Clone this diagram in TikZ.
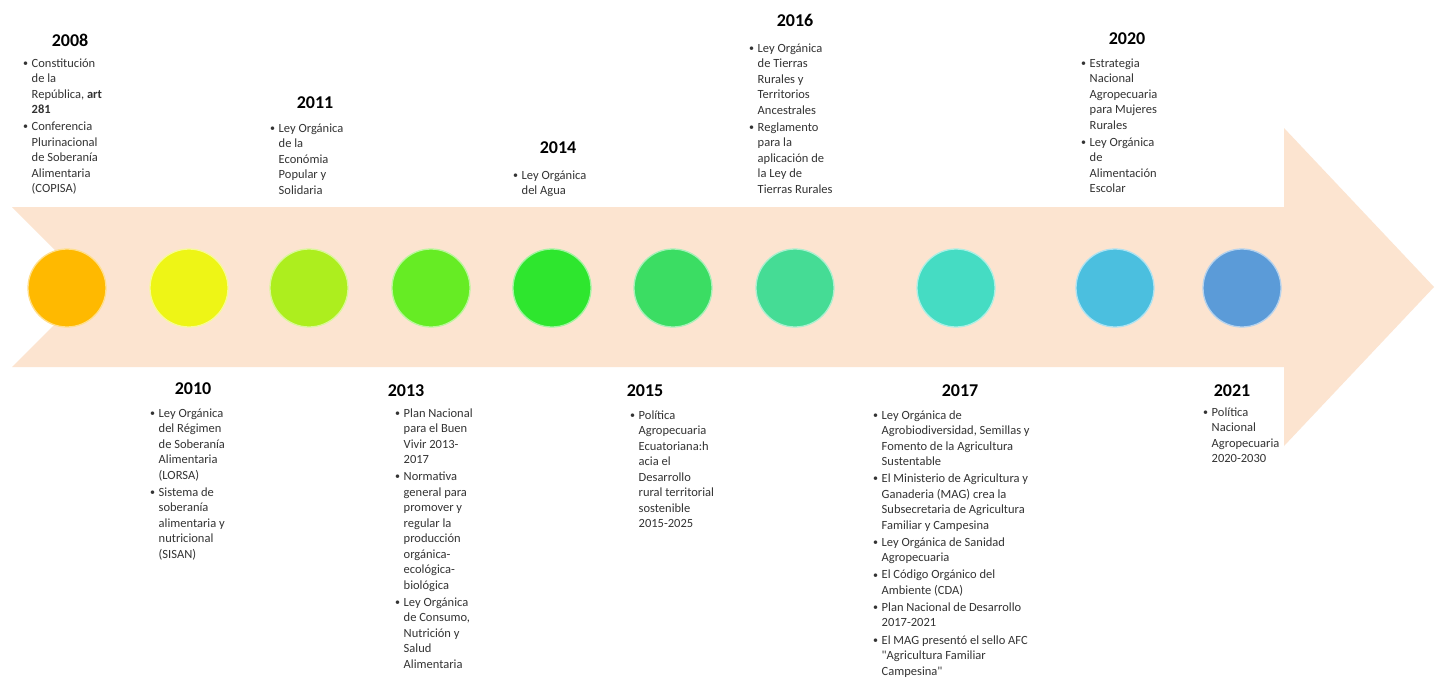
\documentclass[tikz,border=0pt]{standalone}
\usepackage{fontspec}
\setmainfont{Carlito}[Ligatures=TeXOff]
\definecolor{arrowc}{HTML}{FCE4D0}
\definecolor{txtc}{HTML}{333333}
\definecolor{k08}{HTML}{FFB900}
\definecolor{k10}{HTML}{EEF516}
\definecolor{k11}{HTML}{ADEE1E}
\definecolor{k13}{HTML}{66EC24}
\definecolor{k14}{HTML}{2EE62E}
\definecolor{k15}{HTML}{3BDD63}
\definecolor{k16}{HTML}{45DC95}
\definecolor{k17}{HTML}{45DCC3}
\definecolor{k20}{HTML}{4BBFDF}
\definecolor{k21}{HTML}{5B9BD8}
\newcommand{\itm}{\makebox[8.5pt][l]{\raisebox{0.8pt}{\scalebox{0.8}{\textbullet}}}}
\newcommand{\ind}{\hspace*{8.5pt}}
\newcommand{\nx}{\\[1.6pt]}
\newcommand{\blist}[1]{\begin{tabular}[t]{@{}l@{}}#1\end{tabular}}
\tikzset{
  yearlbl/.style={font=\fontsize{18}{20}\selectfont\bfseries, text=black, inner sep=0pt, anchor=base},
  listlbl/.style={font=\fontsize{12.5}{15.5}\selectfont, text=txtc, inner sep=0pt, anchor=base west},
  dot/.style={circle, minimum size=78pt, inner sep=0pt, line width=1.3pt, draw=#1!45!white, fill=#1},
}
\begin{document}
\begin{tikzpicture}[x=1pt,y=-1pt]
\useasboundingbox (0,0) rectangle (1437,680);
\fill[white] (0,0) rectangle (1437,680);
% arrow
\fill[arrowc] (12,207) -- (1284,207) -- (1284,128) -- (1434,287) -- (1284,446) -- (1284,367) -- (12,367) -- (92,287) -- cycle;
% circles
\node[dot=k08] (c2008) at (67,288) {};
\node[dot=k10] (c2010) at (189,288) {};
\node[dot=k11] (c2011) at (309,288) {};
\node[dot=k13] (c2013) at (431,288) {};
\node[dot=k14] (c2014) at (552,288) {};
\node[dot=k15] (c2015) at (673,288) {};
\node[dot=k16] (c2016) at (795,288) {};
\node[dot=k17] (c2017) at (956,288) {};
\node[dot=k20] (c2020) at (1115,288) {};
\node[dot=k21] (c2021) at (1242,288) {};
% top labels
\node[yearlbl] (y2008) at (70,46) {2008};
\node[listlbl] (l2008) at (23,67) {\blist{\itm Constitución\\ \ind de la\\ \ind República, \textbf{art}\\ \ind \textbf{281}\nx \itm Conferencia\\ \ind Plurinacional\\ \ind de Soberanía\\ \ind Alimentaria\\ \ind (COPISA)}};
\node[yearlbl] (y2011) at (315,108) {2011};
\node[listlbl] (l2011) at (270,132) {\blist{\itm Ley Orgánica\\ \ind de la\\ \ind Económia\\ \ind Popular y\\ \ind Solidaria}};
\node[yearlbl] (y2014) at (558,153) {2014};
\node[listlbl] (l2014) at (513,179) {\blist{\itm Ley Orgánica\\ \ind del Agua}};
\node[yearlbl] (y2016) at (795,27) {2016};
\node[listlbl] (l2016) at (749,52) {\blist{\itm Ley Orgánica\\ \ind de Tierras\\ \ind Rurales y\\ \ind Territorios\\ \ind Ancestrales\nx \itm Reglamento\\ \ind para la\\ \ind aplicación de\\ \ind la Ley de\\ \ind Tierras Rurales}};
\node[yearlbl] (y2020) at (1127,44) {2020};
\node[listlbl] (l2020) at (1081,67) {\blist{\itm Estrategia\\ \ind Nacional\\ \ind Agropecuaria\\ \ind para Mujeres\\ \ind Rurales\nx \itm Ley Orgánica\\ \ind de\\ \ind Alimentación\\ \ind Escolar}};
% bottom labels
\node[yearlbl] (y2010) at (193,394) {2010};
\node[listlbl] (l2010) at (150,417) {\blist{\itm Ley Orgánica\\ \ind del Régimen\\ \ind de Soberanía\\ \ind Alimentaria\\ \ind (LORSA)\nx \itm Sistema de\\ \ind soberanía\\ \ind alimentaria y\\ \ind nutricional\\ \ind (SISAN)}};
\node[yearlbl] (y2013) at (406,396) {2013};
\node[listlbl] (l2013) at (395,417) {\blist{\itm Plan Nacional\\ \ind para el Buen\\ \ind Vivir 2013-\\ \ind 2017\nx \itm Normativa\\ \ind general para\\ \ind promover y\\ \ind regular la\\ \ind producción\\ \ind orgánica-\\ \ind ecológica-\\ \ind biológica\nx \itm Ley Orgánica\\ \ind de Consumo,\\ \ind Nutrición y\\ \ind Salud\\ \ind Alimentaria}};
\node[yearlbl] (y2015) at (645,396) {2015};
\node[listlbl] (l2015) at (630,419) {\blist{\itm Política\\ \ind Agropecuaria\\ \ind Ecuatoriana:h\\ \ind acia el\\ \ind Desarrollo\\ \ind rural territorial\\ \ind sostenible\\ \ind 2015-2025}};
\node[yearlbl] (y2017) at (960,396) {2017};
\node[listlbl] (l2017) at (873,419) {\blist{\itm Ley Orgánica de\\ \ind Agrobiodiversidad, Semillas y\\ \ind Fomento de la Agricultura\\ \ind Sustentable\nx \itm El Ministerio de Agricultura y\\ \ind Ganaderia (MAG) crea la\\ \ind Subsecretaria de Agricultura\\ \ind Familiar y Campesina\nx \itm Ley Orgánica de Sanidad\\ \ind Agropecuaria\nx \itm El Código Orgánico del\\ \ind Ambiente (CDA)\nx \itm Plan Nacional de Desarrollo\\ \ind 2017-2021\nx \itm El MAG presentó el sello AFC\\ \ind "Agricultura Familiar\\ \ind Campesina"}};
\node[yearlbl] (y2021) at (1232,396) {2021};
\node[listlbl] (l2021) at (1203,416) {\blist{\itm Política\\ \ind Nacional\\ \ind Agropecuaria\\ \ind 2020-2030}};
\end{tikzpicture}
\end{document}
